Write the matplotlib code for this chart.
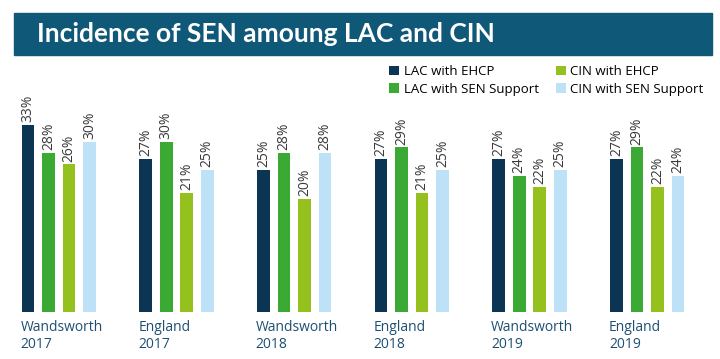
import numpy as np
import matplotlib.pyplot as plt
from matplotlib.patches import Rectangle

# dados (percentuais)
grupos = ['Wandsworth\n2017', 'England\n2017', 'Wandsworth\n2018',
          'England\n2018', 'Wandsworth\n2019', 'England\n2019']
series = ['LAC with EHCP', 'LAC with SEN Support', 'CIN with EHCP', 'CIN with SEN Support']
lac_ehcp = [33, 27, 25, 27, 27, 27]
lac_sen = [28, 30, 28, 29, 24, 29]
cin_ehcp = [26, 21, 20, 21, 22, 22]
cin_sen = [30, 25, 28, 25, 25, 24]

cores = ['#0b3552', '#3aaa35', '#95c11f', '#bde1f7']
valores = [lac_ehcp, lac_sen, cin_ehcp, cin_sen]

plt.rcParams['font.family'] = ['Open Sans', 'DejaVu Sans']

fig = plt.figure(figsize=(7.2, 3.59), dpi=100)

# faixa do título
fig.patches.append(Rectangle((14 / 720, 1 - 55 / 359), 698 / 720, 42 / 359,
                             transform=fig.transFigure, color='#0f5878', zorder=0))
fig.text(37 / 720, 1 - 34 / 359, 'Incidence of SEN amoung LAC and CIN',
         color='white', fontsize=19, fontweight='bold', va='center', ha='left',
         family=['Lato', 'DejaVu Sans'])

# eixo: linha de base em y=312px, 5.67px por ponto percentual
ax = fig.add_axes([0, 47 / 359, 1, 227 / 359])
ax.set_ylim(0, 40)
passo = 117.7
ax.set_xlim(-28 / passo, (720 - 28) / passo)

x = np.arange(len(grupos))
desloc = 20.5 / passo
largura = 12.7 / passo
for k, (v, c, nome) in enumerate(zip(valores, cores, series)):
    barras = ax.bar(x + k * desloc, v, width=largura, color=c, label=nome)
    for b, val in zip(barras, v):
        ax.text(b.get_x() + b.get_width() / 2, val + 0.5, f'{val}%',
                rotation=90, ha='center', va='bottom', fontsize=10, color='#3a3a3a')

for i, g in enumerate(grupos):
    ax.text(i - largura / 2 - 0.01, -1.4, g, ha='left', va='top', fontsize=10,
            color='#1d4f72', linespacing=1.15)

ax.axis('off')

fig.legend(loc='upper left', bbox_to_anchor=(389 / 720, 1 - 65 / 359), ncol=2,
           frameon=False, fontsize=9.5, handlelength=0.75, handleheight=0.75,
           handletextpad=0.35, columnspacing=1.3, labelspacing=0.35,
           borderaxespad=0, borderpad=0)

plt.savefig('out.png', dpi=100)
